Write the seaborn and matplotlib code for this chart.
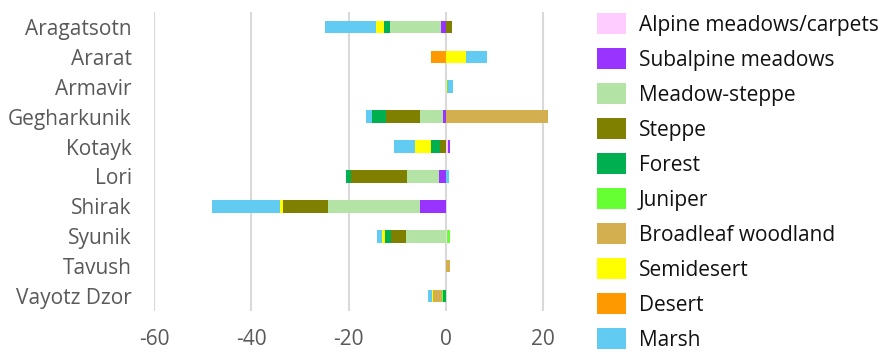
import numpy as np
import pandas as pd
import matplotlib
matplotlib.use("Agg")
import matplotlib.pyplot as plt
from matplotlib.patches import Patch
import seaborn as sns

# Regions and habitat change values
regions = ["Aragatsotn", "Ararat", "Armavir", "Gegharkunik", "Kotayk",
           "Lori", "Shirak", "Syunik", "Tavush", "Vayotz Dzor"]

alpine = [0, 0, 0, 0, 0.45, 0, 0, 0.3, 0, 0]
subalpine = [-1.0, 0, 0, -0.7, 0.35, -1.4, -5.3, 0, 0, 0]
meadow_steppe = [-10.5, 0, 0, -4.6, 0, -6.6, -18.9, -8.15, 0, 0]
steppe = [1.3, 0, 0, -7.0, -1.2, -11.5, -9.25, -3.15, 0, 0]
forest = [-1.2, 0, 0, -2.8, -1.85, -1.0, 0, -1.2, 0, -0.6]
juniper = [0, 0, 0, 0, 0, 0, 0, 0.45, 0, -0.3]
broadleaf = [0, 0, 0, 21.0, 0, 0, 0, 0, 0.9, -1.85]
semidesert = [-1.75, 4.1, 0.2, 0, -3.3, 0, -0.6, -0.6, 0, -0.2]
desert = [0, -3.0, 0, 0, 0, 0, 0, 0, 0, 0]
marsh = [-10.45, 4.3, 1.3, -1.3, -4.25, 0.6, -14.0, -1.0, 0, -0.7]

categories = ["Alpine meadows/carpets", "Subalpine meadows", "Meadow-steppe",
              "Steppe", "Forest", "Juniper", "Broadleaf woodland",
              "Semidesert", "Desert", "Marsh"]
series = [alpine, subalpine, meadow_steppe, steppe, forest, juniper,
          broadleaf, semidesert, desert, marsh]
colors = ["#FFCCFF", "#9933FF", "#B3E3A5", "#808000", "#00B050",
          "#66FF33", "#D4AF50", "#FFFF00", "#FF9900", "#62CBF2"]

sns.set_theme(style="white")
plt.rcParams["font.family"] = ["Open Sans", "DejaVu Sans"]
plt.rcParams["axes.unicode_minus"] = False

fig = plt.figure(figsize=(8.84, 3.52), dpi=100)
ax = fig.add_axes([154 / 884, 1 - 311 / 352, 399 / 884, 299 / 352])

# diverging stack: negatives go left from 0, positives go right
pos_base = np.zeros(len(regions))
neg_base = np.zeros(len(regions))
for name, vals, col in zip(categories, series, colors):
    vals = np.array(vals, dtype=float)
    left = np.where(vals >= 0, pos_base, neg_base)
    df = pd.DataFrame({"region": regions, "value": vals})
    sns.barplot(data=df, x="value", y="region", order=regions, orient="y",
                left=left, color=col, width=0.42, linewidth=0,
                saturation=1, ax=ax)
    pos_base += np.where(vals > 0, vals, 0)
    neg_base += np.where(vals < 0, vals, 0)

ax.set_xlim(-60, 22)
ax.set_ylim(9.5, -0.5)
ax.set_xticks([-60, -40, -20, 0, 20])
ax.set_xlabel("")
ax.set_ylabel("")
ax.grid(axis="x", color="#D9D9D9", linewidth=1.5)
ax.set_axisbelow(True)
for s in ax.spines.values():
    s.set_visible(False)
ax.tick_params(axis="x", length=0, pad=13, labelsize=15, labelcolor="#595959")
ax.tick_params(axis="y", length=0, pad=16, labelsize=15, labelcolor="#595959")

handles = [Patch(facecolor=c, edgecolor="none") for c in colors]
fig.legend(handles, categories, loc="upper left",
           bbox_to_anchor=(597 / 884, 1 - 13 / 352), frameon=False,
           fontsize=15, handlelength=1.4, handleheight=1.2,
           handletextpad=0.6, labelspacing=0.59, borderpad=0,
           borderaxespad=0, labelcolor="#111111")

fig.savefig("out.png", dpi=100)
